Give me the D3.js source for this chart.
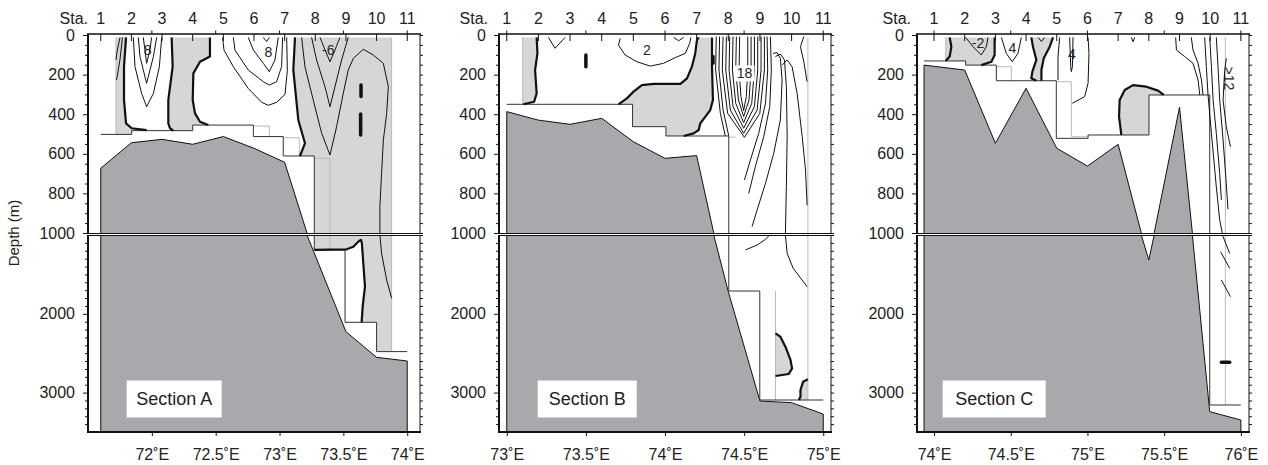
<!DOCTYPE html>
<html><head><meta charset="utf-8">
<script src="https://cdn.jsdelivr.net/npm/d3@7"></script>
<style>body{margin:0;background:#fff}svg{display:block}</style>
</head><body><svg id="c" width="1268" height="465"></svg>
<script>
// ---------------- DATA (lon °E, depth m) ----------------
const stationNames = ["1","2","3","4","5","6","7","8","9","10","11"];
const stationsA = [71.6,71.84,72.08,72.32,72.56,72.8,73.04,73.28,73.52,73.76,74.0];
const stationsB = [73.0,73.2,73.4,73.6,73.8,74.0,74.2,74.4,74.6,74.8,75.0];
const stationsC = [74.0,74.2,74.4,74.6,74.8,75.0,75.2,75.4,75.6,75.8,76.0];
const lonTicksA = [72,72.5,73,73.5,74];
const lonTicksB = [73,73.5,74,74.5,75];
const lonTicksC = [74,74.5,75,75.5,76];
const depthMajorUpper = [0,200,400,600,800,1000];
const depthMajorLower = [2000,3000];
const depthMinorUpper = [50,100,150,250,300,350,450,500,550,650,700,750,850,900,950];
const depthMinorLower = [1100,1200,1300,1400,1500,1600,1700,1800,1900,2100,2200,2300,2400,2500,2600,2700,2800,2900,3100,3200,3300,3400];

// Section A
const bathyA = [[71.6,3500],[71.6,673],[71.84,544],[72.08,527],[72.32,552],[72.56,513],[72.8,572],[73.04,643],[73.215,1000],[73.52,2227],[73.76,2552],[74.0,2599],[74.0,3500]];
const maskA = [[71.6,502],[71.842,502],[71.842,483],[72.32,483],[72.32,455],[72.795,455],[72.795,513],[73.029,513],[73.029,611],[73.272,611],[73.272,1190],[73.513,1190],[73.513,2108],[73.76,2108],[73.76,2480],[74.0,2480]];
const ghostA = [
 [[72.795,460],[72.92,460],[72.92,513]],
 [[73.029,519],[73.155,519],[73.155,611]],
 [[73.272,623],[73.395,623],[73.395,1190]],
 [[73.878,12],[73.878,2480]],
 [[71.719,12],[71.719,502]]
];
const shadeA = [
 [[71.719,12],[71.798,12],[71.782,160],[71.782,328],[71.798,446],[71.842,471],[71.959,480],[71.959,483],[71.842,483],[71.842,502],[71.719,502]],
 [[72.155,12],[72.455,12],[72.455,109],[72.377,135],[72.325,194],[72.320,328],[72.338,396],[72.377,438],[72.442,455],[72.320,455],[72.320,483],[72.168,483],[72.142,471],[72.129,446],[72.129,328],[72.163,160]],
 [[73.121,12],[73.878,12],[73.878,2480],[73.76,2480],[73.76,2108],[73.643,2108],[73.651,1909],[73.669,1656],[73.656,1360],[73.645,1106],[73.638,1063],[73.625,1072],[73.578,1148],[73.525,1182],[73.272,1190],[73.272,611],[73.160,611],[73.199,547],[73.147,429],[73.108,177]]
];
const thickA = [
 [[71.798,12],[71.782,160],[71.782,328],[71.798,446],[71.842,471],[71.959,480]],
 [[72.155,12],[72.163,160],[72.129,328],[72.129,446],[72.142,471],[72.168,483]],
 [[72.455,12],[72.455,109],[72.377,135],[72.325,194],[72.320,328],[72.338,396],[72.377,438],[72.442,455]],
 [[73.121,12],[73.108,177],[73.147,429],[73.199,547],[73.160,611]],
 [[73.272,1190],[73.525,1182],[73.578,1148],[73.625,1072],[73.638,1063],[73.645,1106],[73.656,1360],[73.669,1656],[73.651,1909],[73.643,2108]]
];
const thinA = [
 [[71.751,12],[71.730,76],[71.719,126]],
 [[71.770,12],[71.750,126],[71.724,227]],
 [[71.933,12],[71.946,76],[71.959,143],[71.985,76],[71.998,12]],
 [[71.894,12],[71.907,109],[71.959,244],[72.012,109],[72.038,12]],
 [[71.855,12],[71.868,160],[71.920,295],[71.959,362],[72.012,295],[72.059,160],[72.077,12]],
 [[72.554,12],[72.565,76],[72.638,160],[72.755,270],[72.860,340],[72.912,355],[72.977,340],[73.043,300],[73.061,180],[73.056,12]],
 [[72.638,12],[72.651,76],[72.755,177],[72.873,236],[72.920,253],[72.977,236],[73.016,160],[73.024,12]],
 [[72.755,12],[72.795,76],[72.873,143],[72.920,185],[72.964,126],[72.990,12]],
 [[72.873,12],[72.899,33],[72.920,12]],
 [[73.317,12],[73.356,76],[73.395,135],[73.434,76],[73.473,12]],
 [[73.251,12],[73.290,126],[73.356,261],[73.395,362],[73.434,261],[73.486,126],[73.538,12]],
 [[73.173,12],[73.199,160],[73.264,328],[73.330,497],[73.395,606],[73.447,463],[73.499,295],[73.538,177],[73.578,118],[73.656,72],[73.734,101],[73.813,143],[73.852,261],[73.839,396],[73.813,530],[73.799,699],[73.786,867],[73.786,1000],[73.799,1233],[73.839,1571],[73.878,1804]]
];
const dashA = [[[73.638,253],[73.638,311]],[[73.635,399],[73.635,505]]];
const labelsA = [{t:"8",lon:71.967,depth:76},{t:"8",lon:72.912,depth:84},{t:"-6",lon:73.382,depth:76}];

// Section B
const bathyB = [[73.0,3500],[73.0,387],[73.2,430],[73.4,451],[73.6,421],[73.8,539],[74.0,623],[74.2,609],[74.308,1000],[74.4,1719],[74.6,3107],[74.8,3128],[75.0,3272],[75.0,3500]];
const maskB = [[73.0,350],[73.795,350],[73.795,463],[74.006,463],[74.006,510],[74.403,510],[74.403,1711],[74.599,1711],[74.599,3094],[75.0,3094]];
const ghostB = [[[73.101,12],[73.101,350]],[[74.698,1711],[74.698,3094]],[[74.903,12],[74.903,3094]],[[74.403,516],[74.45,516]]];
const shadeB = [
 [[73.101,12],[73.189,12],[73.194,93],[73.179,177],[73.189,295],[73.173,337],[73.105,350],[73.101,350]],
 [[73.706,350],[73.759,320],[73.801,286],[73.854,253],[73.928,247],[74.097,247],[74.139,219],[74.170,160],[74.191,93],[74.202,25],[74.213,12],[74.297,12],[74.297,160],[74.303,328],[74.286,379],[74.255,412],[74.223,446],[74.213,480],[74.181,497],[74.118,510],[74.006,510],[74.006,463],[73.795,463],[73.795,350]],
 [[74.698,2248],[74.729,2290],[74.761,2417],[74.793,2586],[74.803,2692],[74.782,2764],[74.698,2789]],
 [[74.903,2832],[74.873,2861],[74.856,2967],[74.856,3052],[74.846,3094],[74.903,3094]]
];
const thickB = [
 [[73.189,12],[73.194,93],[73.179,177],[73.189,295],[73.173,337],[73.105,350]],
 [[73.706,350],[73.759,320],[73.801,286],[73.854,253],[73.928,247],[74.097,247],[74.139,219],[74.170,160],[74.191,93],[74.202,25],[74.213,12]],
 [[74.297,12],[74.297,160],[74.303,328],[74.286,379],[74.255,412],[74.223,446],[74.213,480],[74.181,497],[74.118,510]],
 [[74.698,2248],[74.729,2290],[74.761,2417],[74.793,2586],[74.803,2692],[74.782,2764],[74.698,2789]],
 [[74.903,2832],[74.873,2861],[74.856,2967],[74.856,3052],[74.846,3094]]
];
const thinB = [
 [[73.263,12],[73.305,67],[73.369,12]],
 [[73.717,17],[73.706,51],[73.748,101],[73.822,135],[73.907,157],[73.991,143],[74.065,114],[74.128,93],[74.156,42],[74.164,12]],
 [[74.054,12],[74.086,29],[74.118,12]],
 [[74.472,8],[74.468,177],[74.480,311],[74.497,382],[74.514,311],[74.523,177],[74.523,8]],
 [[74.451,8],[74.447,177],[74.464,328],[74.497,412],[74.531,328],[74.544,177],[74.544,8]],
 [[74.430,8],[74.426,177],[74.447,345],[74.497,443],[74.548,345],[74.565,177],[74.565,8]],
 [[74.409,8],[74.405,177],[74.430,362],[74.497,471],[74.565,362],[74.586,177],[74.586,8]],
 [[74.388,8],[74.384,177],[74.413,379],[74.497,497],[74.582,379],[74.607,177],[74.607,8]],
 [[74.367,8],[74.362,177],[74.396,396],[74.502,517],[74.599,396],[74.628,177],[74.628,8]],
 [[74.345,8],[74.341,177],[74.367,379],[74.403,510]],
 [[74.324,8],[74.320,177],[74.350,396],[74.381,510]],
 [[74.645,8],[74.649,177],[74.635,345],[74.592,497],[74.540,631],[74.502,732]],
 [[74.666,8],[74.672,177],[74.662,362],[74.624,513],[74.571,665],[74.529,800]],
 [[74.683,93],[74.708,89],[74.729,118],[74.740,227],[74.729,429],[74.687,598],[74.635,749],[74.582,884],[74.550,968]],
 [[74.698,109],[74.729,96],[74.755,126],[74.767,261],[74.772,513],[74.767,765],[74.761,1000],[74.772,1233],[74.810,1423],[74.898,1656]],
 [[74.740,152],[74.772,126],[74.803,160],[74.835,295],[74.867,513],[74.888,682],[74.898,859]],
 [[74.877,8],[74.856,59],[74.877,135],[74.898,236]],
 [[74.662,1000],[74.635,1055],[74.582,1127],[74.508,1190]]
];
const dashB = [[[73.5,101],[73.5,160]],[[74.303,109],[74.303,143]]];
const labelsB = [{t:"2",lon:73.886,depth:76},{t:"18",lon:74.502,depth:194,bg:true}];

// Section C
const bathyC = [[73.935,3500],[73.935,152],[74.2,177],[74.4,547],[74.6,269],[74.8,572],[75.0,662],[75.2,552],[75.351,1000],[75.4,1317],[75.435,1000],[75.6,365],[75.684,1000],[75.797,3242],[76.0,3348],[76.0,3500]];
const maskC = [[73.935,131],[74.206,131],[74.206,152],[74.406,152],[74.406,231],[74.797,231],[74.797,522],[75.004,522],[75.004,505],[75.401,505],[75.401,303],[75.797,303],[75.797,3157],[76.0,3157]];
const ghostC = [[[74.076,12],[74.076,131]],[[74.406,160],[74.504,160],[74.504,231]],[[74.797,236],[74.895,236],[74.895,514],[75.004,514]],[[75.899,12],[75.899,3157]]];
const shadeC = [
 [[74.076,12],[74.395,12],[74.395,101],[74.374,135],[74.308,152],[74.206,152],[74.206,131],[74.076,131]],
 [[74.634,12],[74.645,59],[74.667,126],[74.641,185],[74.634,219],[74.667,231],[74.700,231],[74.700,177],[74.715,118],[74.754,59],[74.776,12]],
 [[75.221,505],[75.221,497],[75.206,412],[75.210,328],[75.243,278],[75.297,253],[75.384,261],[75.460,281],[75.497,303],[75.401,303],[75.401,505]]
];
const thickC = [
 [[74.102,12],[74.113,59],[74.102,109],[74.076,131]],
 [[74.395,12],[74.395,101],[74.374,135],[74.308,152]],
 [[74.634,12],[74.645,59],[74.667,126],[74.641,185],[74.634,219],[74.667,231]],
 [[74.776,12],[74.754,59],[74.715,118],[74.700,177],[74.700,231]],
 [[75.221,505],[75.206,412],[75.210,328],[75.243,278],[75.297,253],[75.384,261],[75.460,281],[75.497,303]]
];
const thinC = [
 [[74.206,12],[74.254,59],[74.308,101],[74.341,59],[74.352,12]],
 [[74.678,12],[74.700,33],[74.721,12]],
 [[74.439,12],[74.471,93],[74.510,135],[74.547,93],[74.569,12]],
 [[74.884,12],[74.891,160],[74.895,185],[74.902,160],[74.906,12]],
 [[74.819,12],[74.808,109],[74.808,227]],
 [[75.004,12],[75.010,93],[75.004,244],[74.982,311],[74.902,345]],
 [[75.286,12],[75.297,34],[75.308,12]],
 [[75.575,12],[75.580,76],[75.634,109],[75.688,143],[75.721,227],[75.732,303]],
 [[75.677,12],[75.688,76],[75.721,143],[75.743,227],[75.753,303]],
 [[75.764,12],[75.775,160],[75.786,303],[75.808,497],[75.840,767],[75.862,934],[75.884,1021],[75.927,1233]],
 [[75.797,12],[75.808,160],[75.819,328],[75.840,497],[75.862,699],[75.873,833]],
 [[75.840,12],[75.851,160],[75.862,328],[75.884,530],[75.905,750],[75.916,880]],
 [[75.905,118],[75.895,177],[75.884,328],[75.905,463],[75.932,564]],
 [[75.868,1212],[75.927,1423]],
 [[75.873,1571],[75.932,1783]]
];
const dashC = [[[75.873,2616],[75.927,2616]]];
const labelsC = [{t:"-2",lon:74.287,depth:42},{t:"4",lon:74.510,depth:67},{t:"4",lon:74.899,depth:96},{t:">12",lon:75.925,depth:219,rot:90}];

// ---------------- LAYOUT ----------------
const panels = [
 {name:"Section A", domain:[71.5,74.1], x0:88, x1:420, staRight:88, box:{dx:38.7,w:95},
  stations:stationsA, lonTicks:lonTicksA, bathy:bathyA, mask:maskA, ghost:ghostA, shade:shadeA, thick:thickA, thin:thinA, dash:dashA, labels:labelsA},
 {name:"Section B", domain:[72.951,75.049], x0:499, x1:831, staRight:488, box:{dx:38.7,w:99},
  stations:stationsB, lonTicks:lonTicksB, bathy:bathyB, mask:maskB, ghost:ghostB, shade:shadeB, thick:thickB, thin:thinB, dash:dashB, labels:labelsB},
 {name:"Section C", domain:[73.889,76.053], x0:917, x1:1249, staRight:911, box:{dx:25.7,w:103},
  stations:stationsC, lonTicks:lonTicksC, bathy:bathyC, mask:maskC, ghost:ghostC, shade:shadeC, thick:thickC, thin:thinC, dash:dashC, labels:labelsC}
];

const FONT = "'Liberation Sans', Arial, Helvetica, sans-serif";
const LIGHT = "#d5d6d8", BATHY = "#a7a9ac", INK = "#111";
const TOP = 35, UB = 233, LT = 235, BOT = 432, AXT = 34;
const svg = d3.select("#c");
const defs = svg.append("defs");
const yU = d3.scaleLinear().domain([0,1000]).range([TOP,UB]);
const yL = d3.scaleLinear().domain([1000,3500]).range([LT,BOT]);

function styleAxis(g, size){
  g.select(".domain").remove();
  g.selectAll("line").attr("stroke",INK);
  g.selectAll("text").attr("font-family",FONT).attr("font-size",size).attr("fill","#222");
}

panels.forEach((p,i) => {
  const x = d3.scaleLinear().domain(p.domain).range([p.x0,p.x1]);
  [[yU,TOP,UB],[yL,LT,BOT]].forEach(([y,t,b],j) => {
    const id = "clip"+i+"_"+j;
    defs.append("clipPath").attr("id",id).append("rect")
      .attr("x",p.x0).attr("y",t).attr("width",p.x1-p.x0).attr("height",b-t);
    const g = svg.append("g").attr("clip-path","url(#"+id+")");
    const line = d3.line().x(d=>x(d[0])).y(d=>y(d[1]));
    g.selectAll(null).data(p.shade).join("path").attr("d",d=>line(d)+"Z").attr("fill",LIGHT);
    g.append("path").attr("d",line(p.bathy)+"Z").attr("fill",BATHY).attr("stroke",INK).attr("stroke-width",1);
    g.selectAll(null).data(p.ghost).join("path").attr("d",line).attr("fill","none").attr("stroke","#b8b8b8").attr("stroke-width",1);
    g.append("path").attr("d",line(p.mask)).attr("fill","none").attr("stroke","#333").attr("stroke-width",1);
    g.selectAll(null).data(p.thin).join("path").attr("d",line).attr("fill","none").attr("stroke",INK).attr("stroke-width",1).attr("stroke-linejoin","round");
    g.selectAll(null).data(p.thick).join("path").attr("d",line).attr("fill","none").attr("stroke",INK).attr("stroke-width",2.2).attr("stroke-linejoin","round");
    g.selectAll(null).data(p.dash).join("path").attr("d",line).attr("fill","none").attr("stroke",INK).attr("stroke-width",3.5).attr("stroke-linecap","round");
  });

  // contour labels
  p.labels.forEach(l => {
    const lx = x(l.lon), ly = yU(l.depth);
    const tg = svg.append("g");
    if (l.bg) tg.append("rect").attr("x",lx-10).attr("y",ly-8).attr("width",20).attr("height",16).attr("fill","#fff");
    const tx = tg.append("text").attr("x",lx).attr("y",ly).attr("dy","0.35em").attr("text-anchor","middle")
      .attr("font-family",FONT).attr("font-size",14).attr("fill","#222").text(l.t);
    if (l.rot) tx.attr("transform","rotate("+l.rot+","+lx+","+ly+")");
  });

  // frames
  const fr = svg.append("g").attr("fill","none").attr("stroke",INK);
  fr.append("line").attr("x1",p.x1).attr("x2",p.x1).attr("y1",AXT).attr("y2",UB).attr("stroke-width",1);
  fr.append("line").attr("x1",p.x1).attr("x2",p.x1).attr("y1",LT).attr("y2",BOT).attr("stroke-width",1);
  fr.append("line").attr("x1",p.x0).attr("x2",p.x1+0.5).attr("y1",UB+0.5).attr("y2",UB+0.5).attr("stroke-width",1);
  fr.append("line").attr("x1",p.x0).attr("x2",p.x1+0.5).attr("y1",LT+0.5).attr("y2",LT+0.5).attr("stroke-width",1);
  fr.append("line").attr("x1",p.x0-1).attr("x2",p.x1+1).attr("y1",AXT).attr("y2",AXT).attr("stroke-width",1.5);
  fr.append("line").attr("x1",p.x0-1).attr("x2",p.x1+1).attr("y1",BOT).attr("y2",BOT).attr("stroke-width",2);
  fr.append("line").attr("x1",p.x0).attr("x2",p.x0).attr("y1",AXT).attr("y2",UB+1).attr("stroke-width",2);
  fr.append("line").attr("x1",p.x0).attr("x2",p.x0).attr("y1",LT).attr("y2",BOT+1).attr("stroke-width",2);

  // left axes
  styleAxis(svg.append("g").attr("transform","translate("+(p.x0-1)+",0)")
    .call(d3.axisLeft(yU).tickValues(depthMajorUpper).tickSize(4).tickPadding(8).tickFormat(d=>String(d))),16);
  styleAxis(svg.append("g").attr("transform","translate("+(p.x0-1)+",0)")
    .call(d3.axisLeft(yL).tickValues(depthMajorLower).tickSize(4).tickPadding(8).tickFormat(d=>String(d))),16);
  styleAxis(svg.append("g").attr("transform","translate("+(p.x0-1)+",0)")
    .call(d3.axisLeft(yU).tickValues(depthMinorUpper).tickSize(2).tickFormat("")),10);
  styleAxis(svg.append("g").attr("transform","translate("+(p.x0-1)+",0)")
    .call(d3.axisLeft(yL).tickValues(depthMinorLower).tickSize(2).tickFormat("")),10);
  // right ticks
  styleAxis(svg.append("g").attr("transform","translate("+p.x1+",0)")
    .call(d3.axisRight(yU).tickValues(depthMajorUpper.concat(depthMinorUpper)).tickSize(3).tickFormat("")),10);
  styleAxis(svg.append("g").attr("transform","translate("+p.x1+",0)")
    .call(d3.axisRight(yL).tickValues([1000].concat(depthMajorLower,depthMinorLower)).tickSize(3).tickFormat("")),10);

  // bottom axis
  styleAxis(svg.append("g").attr("transform","translate(0,"+(BOT+1)+")")
    .call(d3.axisBottom(x).tickValues(p.lonTicks).tickSize(3).tickPadding(12.5).tickFormat(d=>d+"˚E")),16);

  // top axis: lon ticks up, station ticks down, station labels
  const tg = svg.append("g");
  tg.selectAll(null).data(p.lonTicks).join("line")
    .attr("x1",d=>x(d)).attr("x2",d=>x(d)).attr("y1",AXT).attr("y2",AXT-3.5).attr("stroke",INK);
  tg.selectAll(null).data(p.stations).join("line")
    .attr("x1",d=>x(d)).attr("x2",d=>x(d)).attr("y1",AXT).attr("y2",AXT+7).attr("stroke",INK);
  tg.selectAll(null).data(p.stations).join("text")
    .attr("x",d=>x(d)).attr("y",23.5).attr("text-anchor","middle")
    .attr("font-family",FONT).attr("font-size",16).attr("fill","#222")
    .text((d,k)=>stationNames[k]);
  tg.append("text").attr("x",p.staRight).attr("y",23.5).attr("text-anchor","end")
    .attr("font-family",FONT).attr("font-size",16).attr("fill","#222").text("Sta.");

  // section label
  const bx = p.x0 + p.box.dx;
  svg.append("rect").attr("x",bx).attr("y",380.5).attr("width",p.box.w).attr("height",37).attr("fill","#fff");
  svg.append("text").attr("x",bx+p.box.w/2).attr("y",405).attr("text-anchor","middle")
    .attr("font-family",FONT).attr("font-size",18).attr("fill","#222").text(p.name);
});

svg.append("text").attr("transform","translate(19,233) rotate(-90)").attr("text-anchor","middle")
  .attr("font-family",FONT).attr("font-size",15).attr("fill","#222").text("Depth (m)");
</script>
</body></html>
